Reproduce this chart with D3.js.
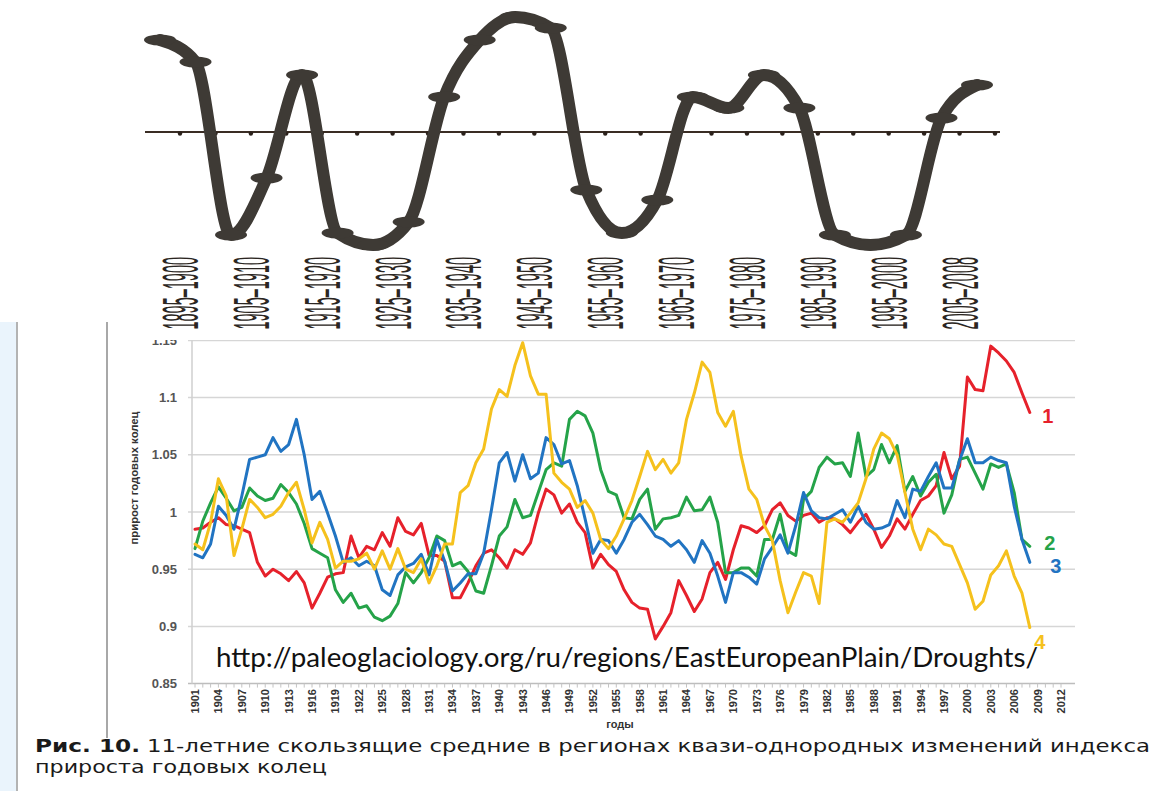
<!DOCTYPE html>
<html><head><meta charset="utf-8">
<script src="https://cdn.jsdelivr.net/npm/d3@7"></script>
<style>html,body{margin:0;padding:0;background:#fff;} svg{display:block}</style>
</head><body><svg id="c" width="1162" height="791"></svg>
<script>
// ---------- top chart data ----------
const topLabels = ["1895–1900","1900–1905","1905–1910","1910–1915","1915–1920","1920–1925","1925–1930","1930–1935","1935–1940","1940–1945","1945–1950","1950–1955","1955–1960","1960–1965","1965–1970","1970–1975","1975–1980","1980–1985","1985–1990","1990–1995","1995–2000","2000–2005","2005–2008",""];
const topValues = [0.92, 0.70, -1.03, -0.46, 0.57, -1.01, -1.13, -0.90, 0.35, 0.92, 1.15, 1.04, -0.58, -1.01, -0.68, 0.35, 0.24, 0.57, 0.24, -1.03, -1.13, -1.03, 0.14, 0.47];

// ---------- bottom chart data ----------
const firstYear = 1901;
const series1 = [0.985,0.986,0.991,0.995,0.989,0.988,0.985,0.982,0.956,0.944,0.950,0.946,0.940,0.948,0.938,0.916,0.929,0.943,0.946,0.947,0.979,0.960,0.970,0.967,0.982,0.970,0.995,0.983,0.980,0.990,0.962,0.962,0.957,0.925,0.925,0.938,0.953,0.964,0.967,0.960,0.951,0.967,0.963,0.973,0.999,1.020,1.015,0.999,1.007,0.991,0.982,0.951,0.963,0.954,0.948,0.932,0.921,0.916,0.915,0.889,0.900,0.912,0.940,0.927,0.913,0.924,0.947,0.956,0.941,0.967,0.988,0.986,0.982,0.988,1.002,1.008,0.997,0.992,0.997,0.999,0.991,0.995,0.994,0.989,0.982,0.991,0.998,0.985,0.969,0.979,0.994,0.985,0.998,1.010,1.014,1.023,1.052,1.029,1.040,1.118,1.107,1.106,1.145,1.139,1.132,1.122,1.104,1.087];
const series2 = [0.968,0.992,1.008,1.022,1.012,1.001,1.004,1.021,1.014,1.010,1.012,1.024,1.017,1.007,0.990,0.968,0.964,0.960,0.932,0.921,0.929,0.916,0.918,0.908,0.905,0.909,0.920,0.947,0.938,0.947,0.960,0.979,0.975,0.953,0.956,0.948,0.931,0.929,0.953,0.979,0.987,1.011,0.995,0.997,1.017,1.037,1.043,1.040,1.081,1.088,1.084,1.069,1.037,1.018,1.015,0.995,0.994,1.011,1.020,0.985,0.994,0.995,0.997,1.013,1.001,1.002,1.013,0.991,0.947,0.947,0.951,0.951,0.944,0.976,0.976,0.998,0.966,0.962,1.011,1.018,1.039,1.048,1.042,1.043,1.031,1.069,1.031,1.037,1.059,1.043,1.058,1.018,1.031,1.014,1.026,1.033,0.999,1.015,1.046,1.048,1.034,1.020,1.042,1.039,1.042,1.017,0.976,0.970];
const series3 = [0.963,0.960,0.972,1.005,0.997,0.985,1.014,1.046,1.048,1.050,1.065,1.053,1.059,1.081,1.050,1.011,1.018,0.999,0.979,0.956,0.960,0.953,0.957,0.953,0.932,0.927,0.945,0.952,0.955,0.963,0.945,0.976,0.957,0.931,0.938,0.946,0.946,0.964,1.002,1.043,1.052,1.027,1.050,1.029,1.034,1.065,1.059,1.042,1.045,1.023,0.994,0.964,0.976,0.975,0.964,0.976,0.991,0.998,0.989,0.979,0.976,0.970,0.975,0.967,0.956,0.975,0.964,0.944,0.921,0.947,0.947,0.943,0.937,0.959,0.969,0.980,0.964,0.988,1.017,1.001,0.995,0.994,0.998,1.002,0.991,1.005,0.991,0.985,0.986,0.989,1.010,0.995,1.020,1.018,1.031,1.043,1.021,1.021,1.045,1.064,1.043,1.043,1.048,1.045,1.043,1.005,0.976,0.956];
const series4 = [0.972,0.967,0.991,1.029,1.014,0.962,0.985,1.011,1.004,0.995,0.998,1.005,1.017,1.026,1.002,0.973,0.991,0.976,0.951,0.957,0.957,0.959,0.964,0.950,0.966,0.950,0.968,0.950,0.947,0.959,0.938,0.953,0.972,0.972,1.017,1.023,1.043,1.055,1.090,1.107,1.101,1.128,1.148,1.119,1.103,1.103,1.034,1.026,1.020,1.004,1.010,0.999,0.976,0.968,0.979,0.994,1.010,1.031,1.053,1.037,1.046,1.034,1.043,1.081,1.104,1.131,1.122,1.087,1.075,1.088,1.049,1.020,1.011,0.988,0.975,0.940,0.912,0.930,0.947,0.944,0.920,0.991,0.994,0.991,0.999,1.008,1.029,1.055,1.069,1.064,1.050,1.017,0.985,0.967,0.985,0.980,0.972,0.970,0.954,0.938,0.915,0.922,0.945,0.953,0.966,0.944,0.929,0.899];
const seriesNames = ["1","2","3","4"];
const seriesColors = ["#e6212b","#25a349","#2174c2","#f5c11d"];
const yTicks = [0.85, 0.9, 0.95, 1, 1.05, 1.1, 1.15];
const yTickLabels = ["0.85","0.9","0.95","1","1.05","1.1","1.15"];
const xTickYears = d3.range(1901, 2013, 3);
const yTitle = "прирост годовых колец";
const xTitle = "годы";
const urlText = "http://paleoglaciology.org/ru/regions/EastEuropeanPlain/Droughts/";
const captionBold = "Рис. 10.";
const captionLine1 = "11-летние скользящие средние в регионах квази-однородных изменений индекса";
const captionLine2 = "прироста годовых колец";

const svg = d3.select("#c");
const defs = svg.append("defs");
defs.append("clipPath").attr("id","clipTopLab").append("rect").attr("x",0).attr("y",0).attr("width",1162).attr("height",337);
defs.append("clipPath").attr("id","clipBottom").append("rect").attr("x",0).attr("y",340).attr("width",1162).attr("height",451);

// ================= TOP CHART =================
const topIdx = d3.range(topValues.length);
const xTopAxis = d3.scalePoint().domain(topIdx).range([180, 995]);
const xTopCurve = d3.scalePoint().domain(topIdx).range([160, 977]);
const yTop = d3.scaleLinear().domain([-1, 1]).range([232, 32]);
const topColor = "#3e3a35";

svg.append("line").attr("x1",145).attr("x2",1000).attr("y1",yTop(0)).attr("y2",yTop(0))
  .attr("stroke","#3a2d24").attr("stroke-width",2);
svg.append("g").selectAll("circle").data(topIdx).join("circle")
  .attr("cx", i => xTopAxis(i)).attr("cy", yTop(0) + 1.5).attr("r", 2.2).attr("fill","#2b211b");

svg.append("path").datum(topValues)
  .attr("d", d3.line().x((d,i) => xTopCurve(i)).y(d => yTop(d)).curve(d3.curveMonotoneX))
  .attr("fill","none").attr("stroke",topColor).attr("stroke-width",12)
  .attr("stroke-linejoin","round").attr("stroke-linecap","round");
svg.append("g").selectAll("ellipse").data(topValues).join("ellipse")
  .attr("cx",(d,i) => xTopCurve(i)).attr("cy", d => yTop(d)).attr("rx",16).attr("ry",5.5).attr("fill",topColor);

svg.append("g").attr("clip-path","url(#clipTopLab)")
  .selectAll("text").data(topIdx.filter(i => i % 2 === 0 && topLabels[i])).join("text")
  .attr("transform", i => `translate(${xTopAxis(i)},257) rotate(-90) scale(0.29,1)`)
  .attr("text-anchor","end").attr("dy","0.36em")
  .attr("font-family","'Liberation Sans', Arial, sans-serif").attr("font-size",50)
  .attr("fill","#2b2622").text(i => topLabels[i]);

// ================= BOTTOM CHART =================
// page decorations of the embedded figure
svg.append("rect").attr("x",0).attr("y",322).attr("width",16).attr("height",469).attr("fill","#eaf4fc");
svg.append("line").attr("x1",17).attr("x2",17).attr("y1",322).attr("y2",791).attr("stroke","#9a9a9a").attr("stroke-width",1.5);
svg.append("line").attr("x1",107).attr("x2",107).attr("y1",322).attr("y2",738).attr("stroke","#a8a8a8").attr("stroke-width",2);

const x = d3.scaleLinear().domain([1901, 2012]).range([195, 1061]);
const y = d3.scaleLinear().domain([0.85, 1.15]).range([683.6, 340.4]);
const years = d3.range(firstYear, firstYear + series1.length);

const gB = svg.append("g").attr("clip-path","url(#clipBottom)");
// gridlines
gB.append("g").selectAll("line").data(yTicks).join("line")
  .attr("x1",188).attr("x2",1075).attr("y1",d => y(d)).attr("y2",d => y(d))
  .attr("stroke", d => d === 0.85 ? "#bdbdbd" : "#d6d6d6").attr("stroke-width",1.5);
// y axis line
gB.append("line").attr("x1",192).attr("x2",192).attr("y1",y(1.15)).attr("y2",y(0.85)).attr("stroke","#cfcfcf").attr("stroke-width",1.5);
// y tick labels
gB.append("g").selectAll("text").data(yTicks).join("text")
  .attr("x",177).attr("y",d => y(d)).attr("dy","0.36em").attr("text-anchor","end")
  .attr("font-family","'Liberation Sans', Arial, sans-serif").attr("font-weight","bold").attr("font-size",13)
  .attr("fill","#555").text((d,i) => yTickLabels[i]);
// x ticks (every year)
gB.append("g").selectAll("line").data(d3.range(1901, 2013)).join("line")
  .attr("x1",d => x(d)).attr("x2",d => x(d)).attr("y1",y(0.85)).attr("y2",y(0.85)+4)
  .attr("stroke","#c4c4c4").attr("stroke-width",1);
// x tick labels
gB.append("g").selectAll("text").data(xTickYears).join("text")
  .attr("transform", d => `translate(${x(d)},689) rotate(-90)`)
  .attr("text-anchor","end").attr("dy","0.36em")
  .attr("font-family","'Liberation Sans', Arial, sans-serif").attr("font-weight","bold").attr("font-size",11)
  .attr("fill","#333").text(d => d);
// axis titles
svg.append("text").attr("transform","translate(134,478) rotate(-90)").attr("text-anchor","middle").attr("dy","0.35em")
  .attr("font-family","'Liberation Sans', Arial, sans-serif").attr("font-weight","bold").attr("font-size",11)
  .attr("textLength",133).attr("lengthAdjust","spacingAndGlyphs").attr("fill","#333").text(yTitle);
svg.append("text").attr("x",620).attr("y",724).attr("text-anchor","middle").attr("dy","0.35em")
  .attr("font-family","'Liberation Sans', Arial, sans-serif").attr("font-weight","bold").attr("font-size",11)
  .attr("fill","#333").text(xTitle);

// series lines
const allSeries = [series1, series2, series3, series4];
const line = d3.line().x((d,i) => x(years[i])).y(d => y(d));
gB.append("g").selectAll("path").data(allSeries).join("path")
  .attr("d", d => line(d)).attr("fill","none")
  .attr("stroke",(d,i) => seriesColors[i]).attr("stroke-width",3)
  .attr("stroke-linejoin","round").attr("stroke-linecap","round");

// series labels
const labelOffsets = [[18, 3], [20, -4], [26, 3], [10, 14]];
svg.append("g").selectAll("text").data(allSeries).join("text")
  .attr("x",(d,i) => x(years[d.length-1]) + labelOffsets[i][0])
  .attr("y",(d,i) => y(d[d.length-1]) + labelOffsets[i][1])
  .attr("dy","0.36em").attr("text-anchor","middle")
  .attr("font-family","'Liberation Sans', Arial, sans-serif").attr("font-weight","bold").attr("font-size",20)
  .attr("fill",(d,i) => seriesColors[i]).text((d,i) => seriesNames[i]);

// url
svg.append("text").attr("x",216).attr("y",667)
  .attr("font-family","Lato, 'Open Sans', sans-serif").attr("font-size",27)
  .attr("textLength",822).attr("lengthAdjust","spacingAndGlyphs").attr("fill","#111").text(urlText);

// caption
svg.append("text").attr("x",35).attr("y",752)
  .attr("font-family","'DejaVu Sans', Verdana, sans-serif").attr("font-weight","bold").attr("font-size",18)
  .attr("textLength",105).attr("lengthAdjust","spacingAndGlyphs").attr("fill","#1a1a1a").text(captionBold);
svg.append("text").attr("x",147).attr("y",752)
  .attr("font-family","'DejaVu Sans', Verdana, sans-serif").attr("font-size",18)
  .attr("textLength",1003).attr("lengthAdjust","spacingAndGlyphs").attr("fill","#1a1a1a").text(captionLine1);
svg.append("text").attr("x",35).attr("y",773)
  .attr("font-family","'DejaVu Sans', Verdana, sans-serif").attr("font-size",18)
  .attr("textLength",292).attr("lengthAdjust","spacingAndGlyphs").attr("fill","#1a1a1a").text(captionLine2);
</script></body></html>
